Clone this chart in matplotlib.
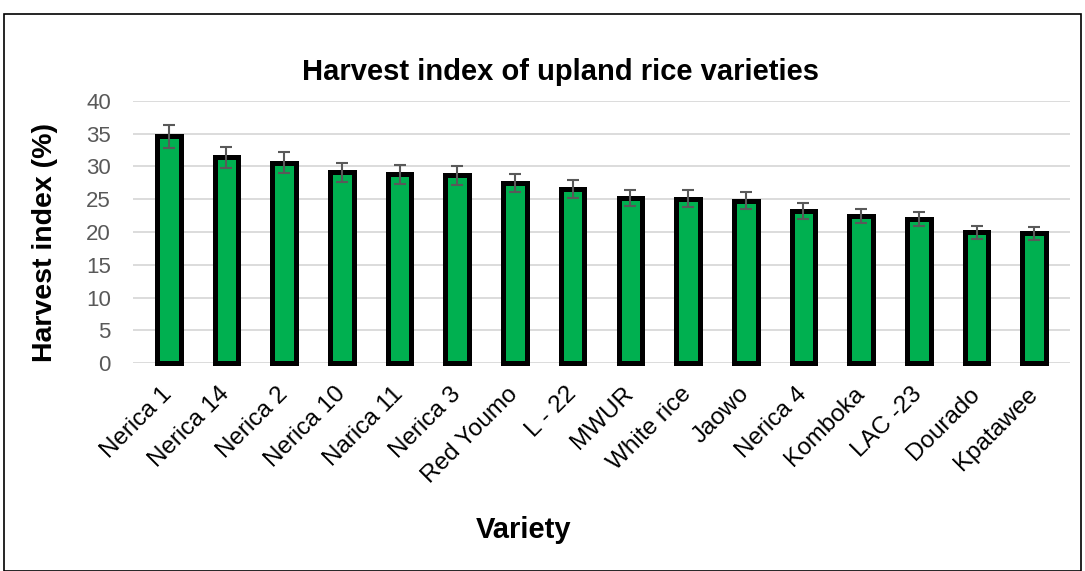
import matplotlib
matplotlib.use("Agg")
import matplotlib.pyplot as plt
from matplotlib.patches import Rectangle

varieties = ["Nerica 1", "Nerica 14", "Nerica 2", "Nerica 10", "Narica 11", "Nerica 3",
             "Red Youmo", "L - 22", "MWUR", "White rice", "Jaowo", "Nerica 4",
             "Komboka", "LAC -23", "Dourado", "Kpatawee"]
harvest_index = [34.6, 31.4, 30.6, 29.1, 28.8, 28.7, 27.5, 26.6, 25.2, 25.1, 24.8, 23.25,
                 22.4, 21.95, 19.95, 19.8]
errors = [1.7, 1.6, 1.55, 1.45, 1.45, 1.45, 1.35, 1.35, 1.25, 1.25, 1.3, 1.2,
          1.1, 1.1, 1.0, 1.0]
yticks = [0, 5, 10, 15, 20, 25, 30, 35, 40]

plt.rcParams['font.family'] = ['Liberation Sans', 'DejaVu Sans']

W, H = 1085, 571
fig = plt.figure(figsize=(W / 100, H / 100), dpi=100)
ax = fig.add_axes([133 / W, 1 - 363 / H, (1070 - 133) / W, (363 - 101) / H])

x = list(range(len(varieties)))
bars = ax.bar(x, harvest_index, width=0.41, color="#00B050", edgecolor="black",
              linewidth=3.6, zorder=3)
for b in bars:
    b.set_clip_on(False)
ax.errorbar(x, harvest_index, yerr=errors, fmt="none", ecolor="#595959",
            elinewidth=1.5, capsize=4, capthick=1.5, zorder=4)

ax.set_ylim(0, 40)
ax.set_xlim(-0.62, len(varieties) - 0.38)
ax.set_yticks(yticks)
ax.set_yticklabels([str(v) for v in yticks], fontsize=16, color="#595959")
ax.set_xticks(x)
ax.set_xticklabels(varieties, rotation=45, ha="right", va="center",
                   rotation_mode="anchor", fontsize=17.5, color="black")
ax.tick_params(axis="both", length=0)
ax.tick_params(axis="y", pad=16)
ax.tick_params(axis="x", pad=20)
ax.yaxis.grid(True, color="#d9d9d9", linewidth=1.3, zorder=0)
ax.set_axisbelow(True)
for s in ax.spines.values():
    s.set_visible(False)

fig.text(561 / W, 1 - 72 / H, "Harvest index of upland rice varieties",
         ha="center", va="center", fontsize=21, fontweight="bold")
fig.text(45 / W, 1 - 243 / H, "Harvest index (%)", ha="center", va="center",
         rotation=90, fontsize=20.5, fontweight="bold")
fig.text(524 / W, 1 - 530 / H, "Variety", ha="center", va="center",
         fontsize=21, fontweight="bold")

fig.patches.append(Rectangle((4 / W, 0), (1081 - 4) / W, 1 - 14 / H,
                             transform=fig.transFigure, fill=False,
                             edgecolor="black", linewidth=1.2))

fig.savefig("out.png", dpi=100)
